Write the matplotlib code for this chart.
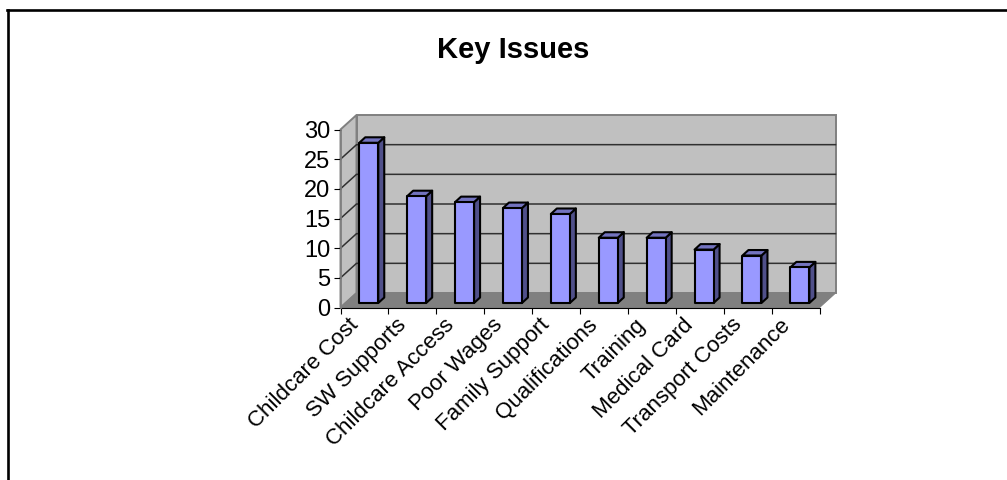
import matplotlib
matplotlib.use('Agg')
import matplotlib.pyplot as plt
from matplotlib.patches import Polygon
from matplotlib.lines import Line2D

categories = ['Childcare Cost', 'SW Supports', 'Childcare Access', 'Poor Wages', 'Family Support',
              'Qualifications', 'Training', 'Medical Card', 'Transport Costs', 'Maintenance']
values = [27, 18, 17, 16, 15, 11, 11, 9, 8, 6]
yticks = [0, 5, 10, 15, 20, 25, 30]

W, H = 1007, 480
plt.rcParams['font.family'] = ['Liberation Sans', 'DejaVu Sans']

fig = plt.figure(figsize=(W / 100, H / 100), dpi=100)
# axes is the front plane of the 3d box
left, right, bottom, top = 340.5, 819.5, 307.5, 129.5
ax = fig.add_axes([left / W, 1 - bottom / H, (right - left) / W, (bottom - top) / H])
ax.set_xlim(0, 10)
ax.set_ylim(0, 30)
ax.patch.set_visible(False)
for s in ax.spines.values():
    s.set_visible(False)

# depth of the box and of the bars, in data units
ux = 10 / (right - left)
uy = 30 / (bottom - top)
dx, dy = 16 * ux, 14.5 * uy
bw = 19 * ux
bdx, bdy = 6 * ux, 5.5 * uy
boff = 4.5 * uy

# walls and floor
ax.add_patch(Polygon([(dx, dy), (10 + dx, dy), (10 + dx, 30 + dy), (dx, 30 + dy)],
                     fc='#c0c0c0', ec='#808080', lw=1.4, clip_on=False, zorder=1))
ax.add_patch(Polygon([(0, 0), (dx, dy), (dx, 30 + dy), (0, 30)],
                     fc='#c0c0c0', ec='#808080', lw=1.4, clip_on=False, zorder=1))
ax.add_patch(Polygon([(0, 0), (10, 0), (10 + dx, dy), (dx, dy)],
                     fc='#808080', ec='#808080', lw=0.8, clip_on=False, zorder=1.5))

# gridlines
for v in yticks[1:-1]:
    ax.add_line(Line2D([0, dx, 10 + dx], [v, v + dy, v + dy], color='#303030', lw=1.1,
                       clip_on=False, zorder=2))

# bars
for i, v in enumerate(values):
    x0 = i + 0.5 - bw / 2 + 0.09
    x1 = x0 + bw
    y0 = boff
    y1 = v + boff
    ax.add_patch(Polygon([(x1, y0), (x1 + bdx, y0 + bdy), (x1 + bdx, y1 + bdy), (x1, y1)],
                         fc='#50508a', ec='black', lw=1.5, joinstyle='round', clip_on=False, zorder=3))
    ax.add_patch(Polygon([(x0, y1), (x1, y1), (x1 + bdx, y1 + bdy), (x0 + bdx, y1 + bdy)],
                         fc='#7373bf', ec='black', lw=1.5, joinstyle='round', clip_on=False, zorder=3))
    ax.add_patch(Polygon([(x0, y0), (x1, y0), (x1, y1), (x0, y1)],
                         fc='#9999ff', ec='black', lw=1.5, joinstyle='round', clip_on=False, zorder=4))

# axis lines at the front
ax.add_line(Line2D([0, 10], [0, 0], color='black', lw=0.8, clip_on=False, zorder=2))
ax.add_line(Line2D([0, 0], [0, 30], color='#808080', lw=1.2, clip_on=False, zorder=2))

ax.set_yticks(yticks)
ax.set_yticklabels([str(v) for v in yticks], fontsize=17)
ax.tick_params(axis='y', length=5, width=0.8, pad=2.5, color='black')
ax.set_xticks(range(11))
ax.set_xticklabels([''] * 11)
ax.tick_params(axis='x', length=4.5, width=0.8, color='black')
for i, name in enumerate(categories):
    ax.annotate(name, xy=(i + 0.5, 0), xycoords='data', xytext=(-12, -5), textcoords='offset points',
                rotation=45, rotation_mode='anchor', ha='right', va='top', fontsize=16,
                annotation_clip=False)

fig.text(513 / W, 1 - 49.5 / H, 'Key Issues', fontsize=21, fontweight='bold', ha='center', va='center')

# outer frame, only left and top show
fig.add_artist(Line2D([7.5 / W, 7.5 / W], [0, 1 - 9.5 / H], color='black', lw=1.9))
fig.add_artist(Line2D([6.5 / W, 1], [1 - 9.5 / H, 1 - 9.5 / H], color='black', lw=1.9))

fig.savefig('out.png', dpi=100)
